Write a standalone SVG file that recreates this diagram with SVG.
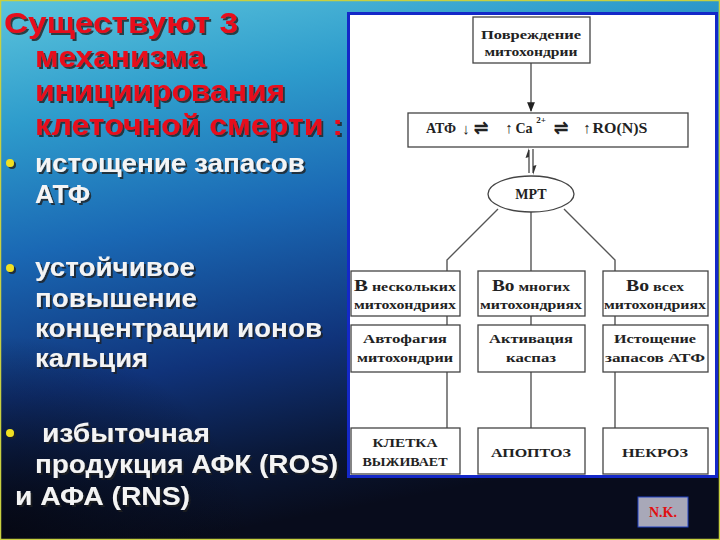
<svg xmlns="http://www.w3.org/2000/svg" width="720" height="540" viewBox="0 0 720 540">
<defs>
<linearGradient id="bg" x1="0" y1="0" x2="0.25" y2="1">
<stop offset="0" stop-color="#5cc4dc"/>
<stop offset="0.22" stop-color="#2e9ccc"/>
<stop offset="0.45" stop-color="#1a68b4"/>
<stop offset="0.7" stop-color="#10337a"/>
<stop offset="0.88" stop-color="#0a1838"/>
<stop offset="1" stop-color="#080c1c"/>
</linearGradient>
<radialGradient id="dark" cx="0" cy="1" r="0.6">
<stop offset="0" stop-color="#05060f" stop-opacity="0.85"/>
<stop offset="1" stop-color="#05060f" stop-opacity="0"/>
</radialGradient>
<filter id="sh" x="-5%" y="-5%" width="115%" height="130%">
<feDropShadow dx="2" dy="2" stdDeviation="0.6" flood-color="#202020" flood-opacity="0.8"/>
</filter>
<marker id="ah" viewBox="0 0 10 10" refX="9" refY="5" markerWidth="7" markerHeight="7" orient="auto">
<path d="M0,1 L10,5 L0,9 z" fill="#222"/>
</marker>
<style>
.title{font-family:"Liberation Sans",Arial,sans-serif;font-weight:bold;font-size:30px;fill:#e8101c}
.bul{font-family:"Liberation Sans",Arial,sans-serif;font-weight:bold;font-size:25px;fill:#f4f4f4}
.box{fill:#ffffff;stroke:#444;stroke-width:1.3}
.t{font-family:"Liberation Serif","Times New Roman",serif;font-weight:bold;font-size:13px;fill:#222;text-anchor:middle}
.ln{stroke:#555;stroke-width:1.4;fill:none}
.star{fill:#f0e020}
</style>
</defs>

<rect x="0" y="0" width="720" height="540" fill="url(#bg)"/>
<rect x="0" y="200" width="420" height="340" fill="url(#dark)"/>
<rect x="0.5" y="0.5" width="719" height="539" fill="none" stroke="#c8d040" stroke-width="1.5"/>

<g id="title" filter="url(#sh)">
<text class="title" x="4" y="33" textLength="234" lengthAdjust="spacingAndGlyphs">Существуют 3</text>
<text class="title" x="35" y="67" textLength="170" lengthAdjust="spacingAndGlyphs">механизма</text>
<text class="title" x="35" y="101" textLength="250" lengthAdjust="spacingAndGlyphs">инициирования</text>
<text class="title" x="35" y="135" textLength="308" lengthAdjust="spacingAndGlyphs">клеточной смерти :</text>
</g>

<g id="bullets" filter="url(#sh)">
<circle class="star" cx="10" cy="163" r="4"/>
<text class="bul" x="35" y="172" textLength="270" lengthAdjust="spacingAndGlyphs">истощение запасов</text>
<text class="bul" x="35" y="203" textLength="55" lengthAdjust="spacingAndGlyphs">АТФ</text>
<circle class="star" cx="10" cy="268" r="4"/>
<text class="bul" x="35" y="276" textLength="160" lengthAdjust="spacingAndGlyphs">устойчивое</text>
<text class="bul" x="35" y="307" textLength="162" lengthAdjust="spacingAndGlyphs">повышение</text>
<text class="bul" x="35" y="337" textLength="287" lengthAdjust="spacingAndGlyphs">концентрации ионов</text>
<text class="bul" x="35" y="367" textLength="113" lengthAdjust="spacingAndGlyphs">кальция</text>
<circle class="star" cx="10" cy="433" r="4"/>
<text class="bul" x="42" y="442" textLength="168" lengthAdjust="spacingAndGlyphs">избыточная</text>
<text class="bul" x="35" y="473" textLength="303" lengthAdjust="spacingAndGlyphs">продукция АФК (ROS)</text>
<text class="bul" x="15" y="505" textLength="175" lengthAdjust="spacingAndGlyphs">и АФА (RNS)</text>
</g>

<rect id="frame" x="348.5" y="13.5" width="368" height="463" fill="#ffffff" stroke="#1428c8" stroke-width="3"/>

<g id="connectors">
<line class="ln" x1="531" y1="63" x2="531" y2="111" marker-end="url(#ah)"/>
<line class="ln" x1="529" y1="173" x2="529" y2="150" stroke-width="1.8"/>
<path d="M529,148 L525.5,158 L529,157 z" fill="#333"/>
<line class="ln" x1="533" y1="149" x2="533" y2="173" stroke-width="1.8"/>
<path d="M533,175 L536.5,165 L533,166 z" fill="#333"/>
<path class="ln" d="M498,209 L447,260 L447,271"/>
<line class="ln" x1="531" y1="212" x2="531" y2="271"/>
<path class="ln" d="M564,209 L615,260 L615,271"/>
<line class="ln" x1="447" y1="316" x2="447" y2="325"/>
<line class="ln" x1="531" y1="316" x2="531" y2="325"/>
<line class="ln" x1="615" y1="316" x2="615" y2="325"/>
<line class="ln" x1="447" y1="372" x2="447" y2="428"/>
<line class="ln" x1="531" y1="372" x2="531" y2="428"/>
<line class="ln" x1="615" y1="372" x2="615" y2="428" stroke-width="2"/>
</g>

<g id="n-damage">
<rect class="box" x="473" y="17" width="117" height="46"/>
<text class="t" x="531" y="39" textLength="100" lengthAdjust="spacingAndGlyphs">Повреждение</text>
<text class="t" x="531" y="56" textLength="93" lengthAdjust="spacingAndGlyphs">митохондрии</text>
</g>

<g id="n-balance">
<rect class="box" x="408" y="113" width="280" height="34"/>
<text class="t" x="441" y="133" style="font-size:14px">АТФ</text>
<text class="t" x="466" y="134" style="font-size:15px">↓</text>
<text class="t" x="481" y="134" style="font-size:17px">⇌</text>
<text class="t" x="509" y="133" style="font-size:15px">↑</text>
<text class="t" x="524" y="133" style="font-size:14px">Ca</text>
<text class="t" x="541" y="123" style="font-size:9px">2+</text>
<text class="t" x="561" y="134" style="font-size:17px">⇌</text>
<text class="t" x="587" y="133" style="font-size:15px">↑</text>
<text class="t" x="620" y="133" style="font-size:14px" textLength="55" lengthAdjust="spacingAndGlyphs">RO(N)S</text>
</g>

<g id="n-mpt">
<ellipse cx="531" cy="194" rx="43" ry="18" fill="#ffffff" stroke="#444" stroke-width="1.3"/>
<text class="t" x="531" y="199" style="font-size:14px">МРТ</text>
</g>

<g id="n-few">
<rect class="box" x="351" y="271" width="109" height="45"/>
<text class="t" x="405" y="291" textLength="102" lengthAdjust="spacingAndGlyphs"><tspan style="font-size:17px">В</tspan> нескольких</text>
<text class="t" x="405" y="309" textLength="102" lengthAdjust="spacingAndGlyphs">митохондриях</text>
</g>
<g id="n-many">
<rect class="box" x="478" y="271" width="107" height="45"/>
<text class="t" x="531" y="291" textLength="78" lengthAdjust="spacingAndGlyphs"><tspan style="font-size:16px">Во</tspan> многих</text>
<text class="t" x="531" y="309" textLength="102" lengthAdjust="spacingAndGlyphs">митохондриях</text>
</g>
<g id="n-all">
<rect class="box" x="603" y="271" width="105" height="45"/>
<text class="t" x="655" y="291" textLength="58" lengthAdjust="spacingAndGlyphs"><tspan style="font-size:16px">Во</tspan> всех</text>
<text class="t" x="655" y="309" textLength="102" lengthAdjust="spacingAndGlyphs">митохондриях</text>
</g>

<g id="n-autophagy">
<rect class="box" x="351" y="325" width="109" height="47"/>
<text class="t" x="405" y="343" textLength="84" lengthAdjust="spacingAndGlyphs">Автофагия</text>
<text class="t" x="405" y="362" textLength="96" lengthAdjust="spacingAndGlyphs">митохондрии</text>
</g>
<g id="n-caspase">
<rect class="box" x="478" y="325" width="107" height="47"/>
<text class="t" x="531" y="343" textLength="84" lengthAdjust="spacingAndGlyphs">Активация</text>
<text class="t" x="531" y="362" textLength="50" lengthAdjust="spacingAndGlyphs">каспаз</text>
</g>
<g id="n-depletion">
<rect class="box" x="603" y="325" width="105" height="47"/>
<text class="t" x="655" y="343" textLength="82" lengthAdjust="spacingAndGlyphs">Истощение</text>
<text class="t" x="655" y="362" textLength="100" lengthAdjust="spacingAndGlyphs">запасов АТФ</text>
</g>

<g id="n-survive">
<rect class="box" x="351" y="428" width="109" height="46"/>
<text class="t" x="405" y="447" textLength="65" lengthAdjust="spacingAndGlyphs">КЛЕТКА</text>
<text class="t" x="405" y="466" textLength="85" lengthAdjust="spacingAndGlyphs">ВЫЖИВАЕТ</text>
</g>
<g id="n-apoptosis">
<rect class="box" x="478" y="428" width="107" height="46"/>
<text class="t" x="531" y="457" textLength="80" lengthAdjust="spacingAndGlyphs">АПОПТОЗ</text>
</g>
<g id="n-necrosis">
<rect class="box" x="603" y="428" width="105" height="46"/>
<text class="t" x="655" y="457" textLength="66" lengthAdjust="spacingAndGlyphs">НЕКРОЗ</text>
</g>

<g id="n-nk">
<rect x="638" y="497" width="50" height="30" fill="#a8a8b8" stroke="#2040c0" stroke-width="1"/>
<text x="663" y="517" text-anchor="middle" style="font-family:'Liberation Serif','Times New Roman',serif;font-weight:bold;font-size:14px;fill:#e01010">N.K.</text>
</g>
</svg>
